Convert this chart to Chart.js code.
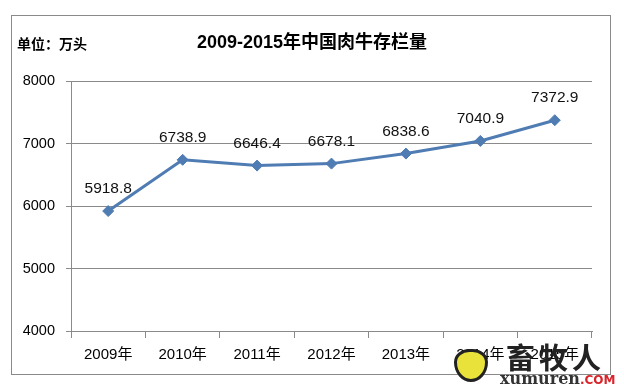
<!DOCTYPE html>
<html>
<head>
<meta charset="utf-8">
<script src="https://cdn.jsdelivr.net/npm/chart.js@4.4.0/dist/chart.umd.min.js"></script>
<style>
  html, body { margin: 0; padding: 0; background: #fff; }
  #wrap { position: relative; width: 624px; height: 390px; overflow: hidden; background: #fff; }
  #frame { position: absolute; left: 11px; top: 15px; width: 598px; height: 358px; border: 1px solid #8a8a8a; }
  canvas { position: absolute; left: 0; top: 0; }
  .txt { position: absolute; white-space: nowrap; color: #000; }
  #unit { left: 17px; top: 33px; font: bold 14px "Noto Sans CJK SC", sans-serif; line-height: 20px; }
  #title { left: 0; width: 624px; text-align: center; top: 30px; font: bold 18px "Liberation Sans", "Noto Sans CJK SC", sans-serif; line-height: 24px; }
  #logo { position: absolute; left: 454px; top: 349px; width: 34px; height: 33px; background: #e8e23a; border: 3px solid #222; border-radius: 45% 45% 50% 50% / 40% 40% 60% 60%; box-sizing: border-box; }
  #mark1 { left: 506px; top: 339px; font: bold 29px "Noto Sans CJK SC", serif; line-height: 34px; color: #222; letter-spacing: 4px; }
  #mark2 { left: 500px; top: 370px; font: bold 16px "DejaVu Serif", serif; line-height: 18px; color: #333; }
  #mark2 span { color: #d8242a; font: bold 12px "DejaVu Sans", sans-serif; }
</style>
</head>
<body>
<div id="wrap">
  <div id="frame"></div>
  <canvas id="chart" width="624" height="390"></canvas>
  <div class="txt" id="unit">单位：万头</div>
  <div class="txt" id="title">2009-2015年中国肉牛存栏量</div>
  <div id="logo"></div>
  <div class="txt" id="mark1">畜牧人</div>
  <div class="txt" id="mark2">xumuren<span>.COM</span></div>
</div>
<script>
// 2009-2015 beef cattle stock, unit: 10k head
const years = ['2009年', '2010年', '2011年', '2012年', '2013年', '2014年', '2015年'];
const stock = [5918.8, 6738.9, 6646.4, 6678.1, 6838.6, 7040.9, 7372.9];
const yTicks = [4000, 5000, 6000, 7000, 8000];

const lineColor = '#4f7cb3';
const gridColor = '#8a8a8a';

// value labels above each point
const valueLabels = {
  id: 'valueLabels',
  afterDatasetsDraw(chart) {
    const ctx = chart.ctx;
    const meta = chart.getDatasetMeta(0);
    ctx.save();
    ctx.font = '15.5px "Liberation Sans", sans-serif';
    ctx.fillStyle = '#111';
    ctx.textAlign = 'center';
    ctx.textBaseline = 'middle';
    meta.data.forEach((pt, i) => {
      ctx.fillText(stock[i].toFixed(1), pt.x, pt.y - 22);
    });
    ctx.restore();
  }
};

new Chart(document.getElementById('chart'), {
  type: 'line',
  data: {
    labels: years,
    datasets: [{
      data: stock,
      borderColor: lineColor,
      borderWidth: 3,
      pointStyle: 'rectRot',
      pointRadius: 5.5,
      pointBackgroundColor: lineColor,
      pointBorderColor: lineColor,
      pointBorderWidth: 1,
      tension: 0,
      fill: false
    }]
  },
  options: {
    responsive: false,
    animation: false,
    events: [],
    layout: { padding: { left: 0, right: 32, top: 81, bottom: 0 } },
    plugins: {
      legend: { display: false },
      tooltip: { enabled: false },
      title: { display: false }
    },
    scales: {
      x: {
        offset: true,
        afterFit(scale) { scale.height = 59; },
        grid: {
          offset: true,
          drawOnChartArea: false,
          drawTicks: true,
          tickLength: 7,
          color: gridColor
        },
        border: { color: gridColor, width: 1 },
        ticks: {
          color: '#000',
          padding: 8,
          maxRotation: 0,
          font: { family: '"Liberation Sans", "Noto Sans CJK SC", sans-serif', size: 15 }
        }
      },
      y: {
        min: 4000,
        max: 8000,
        afterFit(scale) { scale.width = 71; },
        afterBuildTicks(scale) { scale.ticks = yTicks.map(v => ({ value: v })); },
        grid: {
          color: gridColor,
          tickLength: 5,
          drawTicks: true
        },
        border: { color: gridColor, width: 1 },
        ticks: {
          color: '#000',
          padding: 11,
          font: { family: '"Liberation Sans", sans-serif', size: 14.5 },
          callback: v => String(v)
        }
      }
    }
  },
  plugins: [valueLabels]
});
</script>
</body>
</html>
